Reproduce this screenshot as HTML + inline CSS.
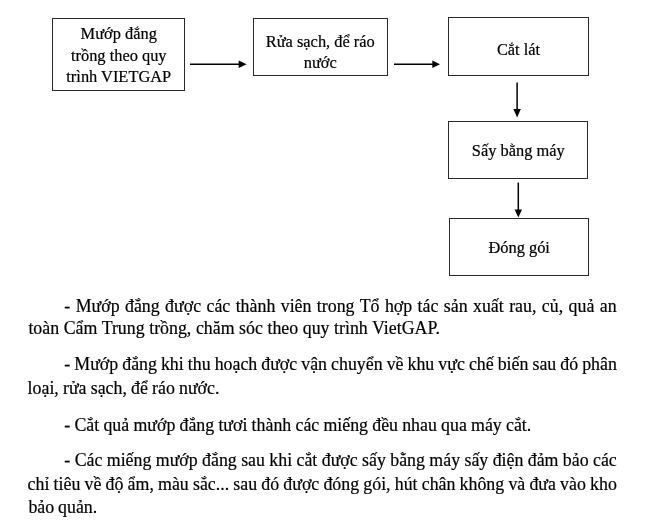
<!DOCTYPE html>
<html><head><meta charset="utf-8">
<style>
html,body{margin:0;padding:0;background:#fff;width:651px;height:523px;overflow:hidden;position:relative}
body{font-family:"Liberation Serif",serif;color:#000}
#w{position:absolute;left:0;top:0;width:651px;height:523px;filter:blur(0.3px)}
.bt,.ln{-webkit-text-stroke:0.2px #000}
.box{position:absolute;border:1.2px solid #2a2a2a;box-sizing:border-box;background:#fff}
.bt{position:absolute;text-align:center;font-size:16.4px;line-height:21.2px;white-space:nowrap}
.ln{position:absolute;font-size:17.85px;white-space:nowrap;line-height:20px}
svg{position:absolute;left:0;top:0}
</style></head><body><div id="w">
<div class="box" style="left:52px;top:18px;width:133px;height:73px"></div>
<div class="box" style="left:253.3px;top:18.2px;width:134.4px;height:57.5px"></div>
<div class="box" style="left:448px;top:17px;width:141px;height:58.8px"></div>
<div class="box" style="left:448.3px;top:120.7px;width:140px;height:58px"></div>
<div class="box" style="left:449.2px;top:218px;width:140px;height:57.7px"></div>

<div class="bt" style="left:52.5px;width:132.5px;top:23.4px">Mướp đắng<br>trồng theo quy<br>trình VIETGAP</div>
<div class="bt" style="left:253.3px;width:134px;top:30.6px">Rửa sạch, để ráo<br>nước</div>
<div class="bt" style="left:448px;width:141px;top:39.1px">Cắt lát</div>
<div class="bt" style="left:448.3px;width:140px;top:140.3px">Sấy bằng máy</div>
<div class="bt" style="left:449.2px;width:140px;top:236.9px">Đóng gói</div>

<svg width="651" height="523">
<g stroke="#000" stroke-width="1.5" fill="#000">
<line x1="190" y1="64.2" x2="240" y2="64.2"/><polygon points="238.7,60.4 246.6,64.2 238.7,68" stroke="none"/>
<line x1="394" y1="64.3" x2="433" y2="64.3"/><polygon points="432.3,60.6 440,64.3 432.3,68" stroke="none"/>
<line x1="517.1" y1="82.4" x2="517.1" y2="110"/><polygon points="513.4,109.1 517.1,117.4 520.8,109.1" stroke="none"/>
<line x1="518.3" y1="182.6" x2="518.3" y2="210"/><polygon points="514.6,209.4 518.3,217.5 522,209.4" stroke="none"/>
</g>
</svg>

<div class="ln" style="left:64.30px;top:295.60px;word-spacing:0.965px">- Mướp đắng được các thành viên trong Tổ hợp tác sản xuất rau, củ, quả an</div>
<div class="ln" style="left:28.42px;top:318.20px;word-spacing:0.107px">toàn Cẩm Trung trồng, chăm sóc theo quy trình VietGAP.</div>
<div class="ln" style="left:64.30px;top:354.20px;word-spacing:-0.420px">- Mướp đắng khi thu hoạch được vận chuyển về khu vực chế biến sau đó phân</div>
<div class="ln" style="left:27.62px;top:377.50px;word-spacing:-0.288px">loại, rửa sạch, để ráo nước.</div>
<div class="ln" style="left:64.30px;top:414.50px;word-spacing:-0.258px">- Cắt quả mướp đắng tươi thành các miếng đều nhau qua máy cắt.</div>
<div class="ln" style="left:64.30px;top:450.40px;word-spacing:-0.065px">- Các miếng mướp đắng sau khi cắt được sấy bằng máy sấy điện đảm bảo các</div>
<div class="ln" style="left:27.62px;top:473.90px;word-spacing:-0.276px">chỉ tiêu về độ ẩm, màu sắc... sau đó được đóng gói, hút chân không và đưa vào kho</div>
<div class="ln" style="left:28.42px;top:496.80px;word-spacing:-0.560px">bảo quản.</div>
</div></body></html>
